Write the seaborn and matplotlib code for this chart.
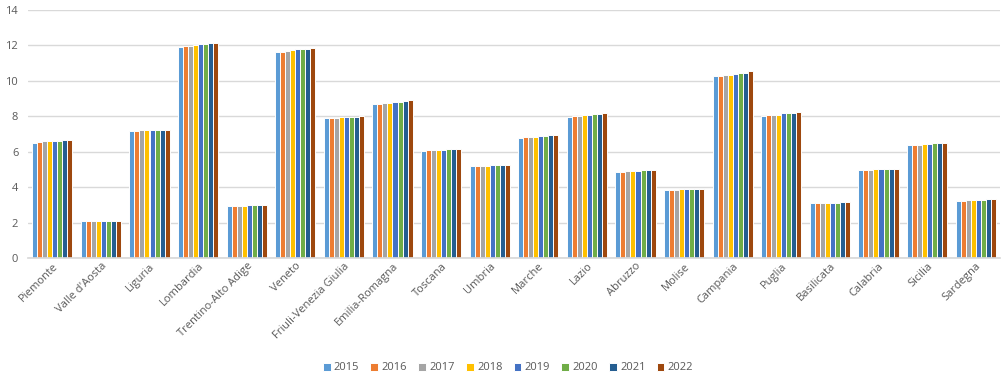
import matplotlib
matplotlib.use("Agg")
import matplotlib.pyplot as plt
import seaborn as sns
import pandas as pd

regions = ["Piemonte", "Valle d'Aosta", "Liguria", "Lombardia", "Trentino-Alto Adige",
           "Veneto", "Friuli-Venezia Giulia", "Emilia-Romagna", "Toscana", "Umbria",
           "Marche", "Lazio", "Abruzzo", "Molise", "Campania", "Puglia", "Basilicata",
           "Calabria", "Sicilia", "Sardegna"]
years = ["2015", "2016", "2017", "2018", "2019", "2020", "2021", "2022"]

v2015 = [6.52, 2.11, 7.18, 11.92, 2.95, 11.62, 7.88, 8.70, 6.05, 5.17, 6.80, 7.97, 4.85, 3.82, 10.28, 8.01, 3.08, 4.98, 6.37, 3.21]
v2016 = [6.57, 2.11, 7.18, 11.97, 2.95, 11.62, 7.88, 8.70, 6.09, 5.17, 6.84, 8.01, 4.85, 3.82, 10.28, 8.06, 3.08, 4.98, 6.37, 3.21]
v2017 = [6.58, 2.11, 7.24, 11.97, 2.95, 11.69, 7.93, 8.74, 6.09, 5.17, 6.84, 8.01, 4.91, 3.82, 10.32, 8.06, 3.08, 4.98, 6.37, 3.27]
v2018 = [6.58, 2.11, 7.24, 12.01, 2.95, 11.75, 7.97, 8.74, 6.09, 5.17, 6.84, 8.06, 4.91, 3.87, 10.32, 8.10, 3.12, 5.02, 6.43, 3.27]
v2019 = [6.62, 2.11, 7.24, 12.09, 2.99, 11.79, 7.97, 8.80, 6.09, 5.23, 6.88, 8.06, 4.91, 3.87, 10.38, 8.16, 3.12, 5.02, 6.43, 3.27]
v2020 = [6.62, 2.11, 7.24, 12.07, 2.99, 11.79, 7.97, 8.80, 6.15, 5.23, 6.88, 8.12, 4.94, 3.87, 10.43, 8.16, 3.12, 5.02, 6.48, 3.27]
v2021 = [6.67, 2.11, 7.24, 12.12, 2.99, 11.82, 7.97, 8.85, 6.15, 5.23, 6.94, 8.12, 4.98, 3.87, 10.47, 8.20, 3.18, 5.02, 6.48, 3.33]
v2022 = [6.67, 2.11, 7.24, 12.16, 2.99, 11.86, 8.01, 8.91, 6.15, 5.23, 6.94, 8.16, 4.98, 3.91, 10.53, 8.23, 3.18, 5.02, 6.52, 3.33]

colors = ["#5B9BD5", "#ED7D31", "#A5A5A5", "#FFC000", "#4472C4", "#70AD47", "#255E91", "#9E480E"]

series = [v2015, v2016, v2017, v2018, v2019, v2020, v2021, v2022]
rows = []
for y, vals in zip(years, series):
    for r, v in zip(regions, vals):
        rows.append({"Regione": r, "Anno": y, "Valore": v})
df = pd.DataFrame(rows)

sns.set_theme(style="white")
plt.rcParams['font.family'] = ['Open Sans', 'DejaVu Sans']

fig = plt.figure(figsize=(10.04, 3.77), dpi=100)
ax = fig.add_axes([28/1004, 1 - 258/377, (1000 - 28)/1004, (258 - 10)/377])

sns.barplot(data=df, x="Regione", y="Valore", hue="Anno", order=regions, hue_order=years,
            palette=colors, width=0.83, edgecolor="white", linewidth=0.7, saturation=1,
            ax=ax, errorbar=None)

ax.set_ylim(0, 14)
ax.set_yticks(range(0, 15, 2))
ax.set_xlim(-0.5, len(regions) - 0.5)
ax.yaxis.grid(True, color="#D9D9D9", linewidth=1)
ax.set_axisbelow(True)
for s in ["top", "right", "left"]:
    ax.spines[s].set_visible(False)
ax.spines["bottom"].set_color("#D9D9D9")
ax.set_xlabel("")
ax.set_ylabel("")
ax.tick_params(axis="y", length=0, labelsize=8, labelcolor="#595959", pad=7)
ax.tick_params(axis="x", length=0, labelsize=8, labelcolor="#595959", pad=2)
plt.setp(ax.get_xticklabels(), rotation=45, ha="right", rotation_mode="anchor")

handles, labels = ax.get_legend_handles_labels()
ax.legend_.remove()
fig.legend(handles, labels, loc="center", bbox_to_anchor=(508/1004, 1 - 368/377), ncol=8,
           frameon=False, fontsize=8, handlelength=0.7, handleheight=0.7,
           handletextpad=0.3, columnspacing=1.0, labelcolor="#595959")

fig.savefig("out.png", dpi=100, facecolor="white")
